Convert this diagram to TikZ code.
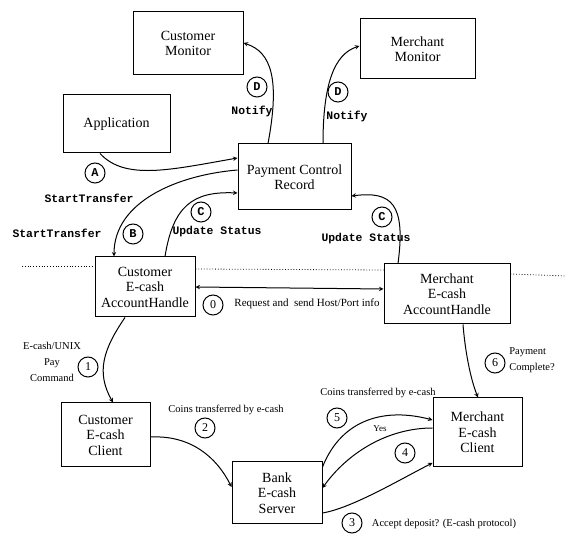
\documentclass[tikz,border=0pt]{standalone}
\usepackage{fontspec}
\setmainfont{Liberation Serif}
\setmonofont{Liberation Mono}
\usepackage{tikz}

\tikzset{
	box/.style={draw, align=center, inner sep=0pt, font=\fontsize{14}{15.5}\selectfont},
	num/.style={draw, circle, minimum size=20pt, inner sep=0pt, font=\fontsize{12}{12}\selectfont},
	lnum/.style={num, font=\ttfamily\bfseries\fontsize{12}{12}\selectfont},
	lbl/.style={inner sep=1pt, align=center, font=\fontsize{10.5}{16}\selectfont},
	cmd/.style={inner sep=1pt, font=\ttfamily\bfseries\fontsize{11.4}{12}\selectfont},
}

\begin{document}
\begin{tikzpicture}[x=1pt, y=-1pt, >=stealth, line width=1pt]
		\useasboundingbox (0,0) rectangle (566,534);

				% boxes
				\node [box, minimum width=110pt, minimum height=63pt] (cmon) at (188,43.5){Customer\\Monitor};
				\node [box, minimum width=115pt, minimum height=60pt] (mmon) at (417.5,49){Merchant\\Monitor};
				\node [box, minimum width=107pt, minimum height=58pt] (app) at (116.5,124){Application};
				\node [box, minimum width=113pt, minimum height=66pt] (pcr) at (294.5,177){Payment Control\\Record};
				\node [box, minimum width=100pt, minimum height=60pt] (cah) at (145,287){Customer\\E-cash\\AccountHandle};
				\node [box, minimum width=126pt, minimum height=60pt] (mah) at (447,294){Merchant\\E-cash\\AccountHandle};
				\node [box, minimum width=89pt, minimum height=64pt] (ccl) at (105.5,435){Customer\\E-cash\\Client};
				\node [box, minimum width=90pt, minimum height=62pt] (bank) at (277,493){Bank\\E-cash\\Server};
				\node [box, minimum width=89pt, minimum height=69pt] (mcl) at (477.5,432.5){Merchant\\E-cash\\Client};

				% dotted divider
				\coordinate (dl) at (22,266);
				\coordinate (dr) at (566,276);
				\draw [dotted, line width=0.8pt] (dl) -- ([yshift=21pt]cah.west);
				\draw [dotted, line width=0.8pt] ([yshift=18pt]cah.east) -- ([yshift=24pt]mah.west);
				\draw [dotted, line width=0.8pt] ([yshift=20pt]mah.east) -- (dr);

				% upper connectors
				\draw [->] ([xshift=-16.5pt]app.south) .. controls +(25,27) and +(-68,12) .. ([yshift=19pt]pcr.west);
				\draw [->] ([yshift=7pt]pcr.west) .. controls +(-60,5) and +(0,-55) .. ([xshift=-31pt]cah.north);
				\draw [->] ([xshift=20pt]cah.north) .. controls +(8,-50) and +(-45,-2) .. ([yshift=-16pt]pcr.west);
				\draw [->] ([xshift=-49pt]mah.north) .. controls +(8,-60) and +(40,-5) .. ([yshift=-19pt]pcr.east);
				\draw [->] ([xshift=-26.5pt]pcr.north) .. controls +(12,-64) and +(28,9) .. ([yshift=0.5pt]cmon.east);
				\draw [->] ([xshift=28.5pt]pcr.north) .. controls +(0,-60) and +(-25,8) .. ([yshift=3pt]mmon.west);
				\draw [<->] (cah.east) -- ([yshift=5pt]mah.west);

				% lower connectors
				\draw [->] ([xshift=-20pt]cah.south) .. controls +(-22,32) and +(-17,-30) .. ([xshift=7.5pt]ccl.north);
				\draw [->] ([yshift=-2pt]ccl.east) .. controls +(40,-2) and +(-15,-30) .. ([yshift=6pt]bank.west);
				\draw [->] ([yshift=-20pt]bank.east) .. controls +(30,-5) and +(-30,15) .. ([yshift=-30.5pt]mcl.west);
				\draw [->] ([yshift=4.5pt]mcl.west) .. controls +(-45,0) and +(25,-35) .. ([yshift=5pt]bank.east);
				\draw [->] ([yshift=26pt]bank.east) .. controls +(20,-50) and +(-45,-12) .. ([yshift=12.5pt]mcl.west);
				\draw [->] ([xshift=16pt]mah.south) .. controls +(2,25) and +(-8,-20) .. ([xshift=0.5pt]mcl.north);

				% step markers and labels
				\node [lnum] (stA) at (95,173){A};
				\node [cmd] (txA) at (89,198){StartTransfer};
				\node [lnum] (stB) at (133,234){B};
				\node [cmd] (txB) at (57,233){StartTransfer};
				\node [lnum] (stC1) at (201,212){C};
				\node [cmd] (txC1) at (217,232){Update Status};
				\node [lnum] (stC2) at (382,217){C};
				\node [cmd] (txC2) at (366,239){Update Status};
				\node [lnum] (stD1) at (257,87){D};
				\node [cmd] (txD1) at (252,111){Notify};
				\node [lnum] (stD2) at (338,92){D};
				\node [cmd] (txD2) at (347,116){Notify};

				\node [num] (st0) at (213,305){0};
				\node [lbl, font=\fontsize{11}{12}\selectfont] (tx0) at (307,304){Request and\ \ send Host/Port info};
				\node [num] (st1) at (88,367){1};
				\node [lbl] (tx1) at (52,362){E-cash/UNIX\\Pay\\Command};
				\node [num] (st2) at (205,428){2};
				\node [lbl] (tx2) at (226,410){Coins transferred by e-cash};
				\node [num] (st3) at (352,523){3};
				\node [lbl] (tx3) at (444,524){Accept deposit? (E-cash protocol)};
				\node [num] (st4) at (405,453){4};
				\node [lbl, font=\fontsize{9}{10}\selectfont] (tx4) at (380,429){Yes};
				\node [num] (st5) at (337,418){5};
				\node [lbl] (tx5) at (378,393){Coins transferred by e-cash};
				\node [num] (st6) at (495,363){6};
				\node [lbl, align=left] (tx6) at (532,360){Payment\\Complete?};

			\end{tikzpicture}
\end{document}
